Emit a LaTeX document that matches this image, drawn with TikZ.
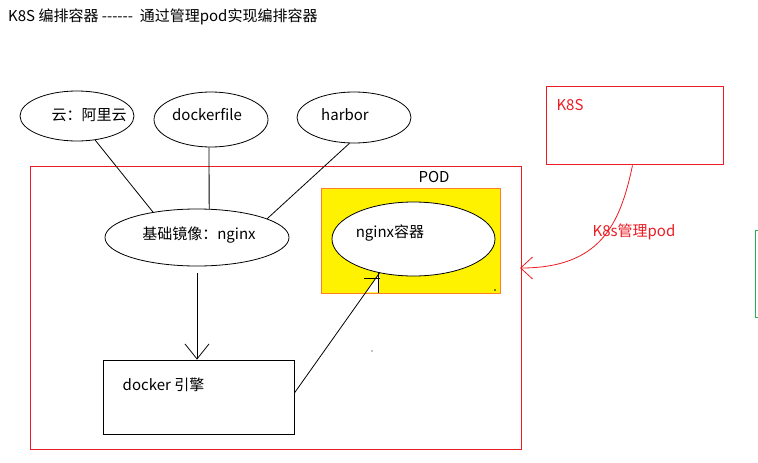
\documentclass[tikz,border=0pt]{standalone}
\usepackage{fontspec}
\setmainfont{Noto Sans CJK SC}
\usetikzlibrary{shapes.geometric,arrows.meta}
\definecolor{pred}{HTML}{ED1C24}
\definecolor{pyellow}{HTML}{FFF200}
\definecolor{porange}{HTML}{FF7F27}
\definecolor{pgreen}{HTML}{22B14C}
\begin{document}
\begin{tikzpicture}[x=1pt,y=-1pt,
  every node/.style={font=\fontsize{15}{18}\selectfont, inner sep=0pt},
  ell/.style={draw, ellipse, line width=0.8pt},
  box/.style={draw, rectangle, line width=0.8pt},
  conn/.style={line width=0.8pt},
  redconn/.style={line width=0.8pt, draw=pred}]
\useasboundingbox (0,0) rectangle (758,463);
\fill[white] (0,0) rectangle (758,463);
% title
\node[anchor=west] (title) at (8,17) {K8S 编排容器 {-}{-}{-}{-}{-}{-} \ 通过管理pod实现编排容器};
% top ellipses
\node[ell, minimum width=114pt, minimum height=50pt, label={[xshift=12pt,yshift=1pt]center:云：阿里云}] (yun) at (77,116) {};
\node[ell, minimum width=114pt, minimum height=55pt, label={[xshift=-4pt,yshift=5pt]center:dockerfile}] (df) at (211,119.5) {};
\node[ell, minimum width=114pt, minimum height=51pt, label={[xshift=-9pt,yshift=3pt]center:harbor}] (hb) at (354,117.5) {};
% POD rectangle
\node[box, draw=pred, minimum width=491pt, minimum height=283pt] (pod) at (275.5,307.5) {};
\node (podlabel) at (434,177) {POD};
% base image
\node[ell, minimum width=184pt, minimum height=57pt, label={[xshift=2pt,yshift=2pt]center:基础镜像：nginx}] (base) at (197,237.5) {};
% yellow box with nginx container
\node[box, draw=porange, fill=pyellow, minimum width=179pt, minimum height=105pt] (ybox) at (410.5,240.5) {};
\node[ell, fill=white, minimum width=163pt, minimum height=74pt, label={[xshift=-23.5pt,yshift=6pt]center:nginx容器}] (ng) at (413.5,239) {};
% docker engine
\node[box, minimum width=191pt, minimum height=74pt, label={[xshift=-35pt,yshift=12pt]center:docker 引擎}] (dk) at (198.5,397) {};
% connectors to base
\draw[conn] (yun.-53) -- (base.150);
\draw[conn] (df.-94) -- (base.67);
\draw[conn] (hb.-100) -- (base.15);
% base -> docker
\draw[conn, -{Straight Barb[length=15pt,width=24pt,line width=0.8pt]}, shorten <=7pt] (base.south) -- (base.south |- dk.north);
% docker -> nginx container
\coordinate (tip) at (ng.-135);
\fill[white] (tip) -- (365.8,292.3) -- (379,292.3) -- cycle;
\draw[conn] (dk.east) ++(0,-4) -- (tip);
\draw[conn] (tip) ++(-1,-1) -- ++(0,21);
\draw[conn] (tip) ++(-15,5) -- ++(16,0);
% stray marks
\fill (495,290) circle (0.8pt);
\fill (372,351) circle (0.6pt);
% K8S box
\node[box, draw=pred, minimum width=177pt, minimum height=78pt, label={[xshift=-64.5pt,yshift=20pt,text=pred]center:K8S}] (k8s) at (634.5,125) {};
\coordinate (podin) at (520,268);
\draw[redconn, -{Straight Barb[length=12pt,width=22pt,line width=0.8pt]}] (k8s.south) ++(-2,1) .. controls (620,225) and (600,268) .. (podin);
\node[text=pred] (mlabel) at (634,232) {K8s管理pod};
% green rectangle at right edge
\draw[pgreen, line width=0.8pt] (755,230) rectangle (770,317);
\end{tikzpicture}
\end{document}
